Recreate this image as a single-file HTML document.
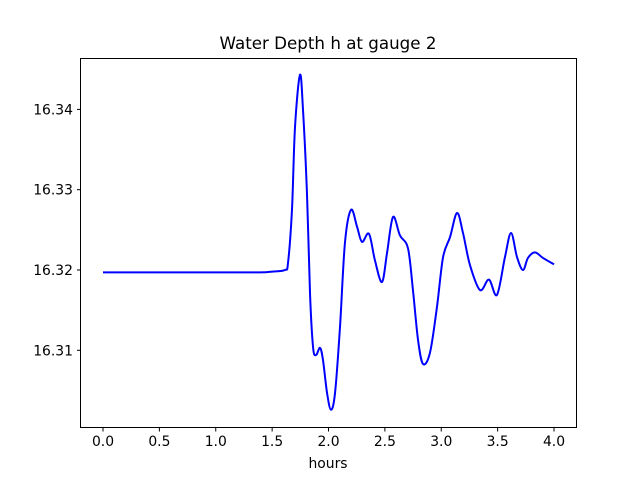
<!DOCTYPE html>
<html><head><meta charset="utf-8"><style>
body{margin:0;background:#fff}
svg{display:block;font-family:"DejaVu Sans","Liberation Sans",sans-serif}
</style></head><body>
<svg id="chart" width="640" height="480" xmlns="http://www.w3.org/2000/svg">
<rect width="640" height="480" fill="#fff"/>
<text x="328" y="49" text-anchor="middle" font-size="16.7" fill="#000">Water Depth h at gauge 2</text>
<g id="xt"></g>
<g id="yt"></g>
<path id="line" fill="none" stroke="#0000ff" stroke-width="2"/>
<rect x="80.5" y="58.5" width="496" height="369" fill="none" stroke="#000" stroke-width="1"/>
<text x="328" y="468" text-anchor="middle" font-size="13.9">hours</text>
</svg>
<script>
const xTicks=[0,0.5,1,1.5,2,2.5,3,3.5,4];
const xTickLabels=["0.0","0.5","1.0","1.5","2.0","2.5","3.0","3.5","4.0"];
const yTicks=[16.31,16.32,16.33,16.34];
const yTickLabels=["16.31","16.32","16.33","16.34"];
const xs=[0,1.0,1.392,1.5,1.614,1.641,1.676,1.703,1.747,1.774,1.809,1.836,1.863,1.889,1.925,1.951,1.987,2.022,2.058,2.102,2.146,2.200,2.253,2.297,2.359,2.412,2.474,2.519,2.572,2.634,2.705,2.749,2.794,2.838,2.900,2.962,3.016,3.078,3.140,3.193,3.255,3.344,3.423,3.494,3.565,3.619,3.672,3.725,3.769,3.831,3.902,4.0];
const ys=[16.3197,16.3197,16.3197,16.3198,16.3200,16.3209,16.3275,16.3378,16.3443,16.3399,16.3296,16.3171,16.3104,16.3094,16.3103,16.3088,16.3047,16.3026,16.3047,16.3129,16.3234,16.3275,16.3254,16.3235,16.3245,16.3212,16.3185,16.3221,16.3266,16.3243,16.3227,16.3175,16.3113,16.3083,16.3097,16.3154,16.3216,16.3241,16.3271,16.3246,16.3206,16.3175,16.3188,16.3169,16.3216,16.3246,16.3216,16.3200,16.3215,16.3222,16.3215,16.3207];
const NS="http://www.w3.org/2000/svg";
function sx(v){return 103+v*112.75;}
function sy(v){return 270-(v-16.32)*8030;}
const xt=document.getElementById('xt'), yt=document.getElementById('yt');
xTicks.forEach((t,i)=>{
  const l=document.createElementNS(NS,'line');
  
  
  l.setAttribute('x1',sx(t));l.setAttribute('x2',sx(t));l.setAttribute('y1',428);l.setAttribute('y2',431.5);l.setAttribute('stroke','#000');
  xt.appendChild(l);
  const tx=document.createElementNS(NS,'text');
  
  
  tx.setAttribute('x',sx(t));tx.setAttribute('y',446);tx.setAttribute('text-anchor','middle');tx.setAttribute('font-size','13.9');
  tx.textContent=xTickLabels[i];xt.appendChild(tx);
});
yTicks.forEach((t,i)=>{
  const l=document.createElementNS(NS,'line');
  
  
  l.setAttribute('x1',77);l.setAttribute('x2',80.5);l.setAttribute('y1',sy(t));l.setAttribute('y2',sy(t));l.setAttribute('stroke','#000');
  yt.appendChild(l);
  const tx=document.createElementNS(NS,'text');
  
  
  tx.setAttribute('x',73);tx.setAttribute('y',sy(t)+5);tx.setAttribute('text-anchor','end');tx.setAttribute('font-size','13.9');
  tx.textContent=yTickLabels[i];yt.appendChild(tx);
});
const P=xs.map((x,i)=>[sx(x),sy(ys[i])]);
let d='M'+P[0][0]+','+P[0][1];
for(let i=0;i<P.length-1;i++){
  const p0=P[Math.max(0,i-1)],p1=P[i],p2=P[i+1],p3=P[Math.min(P.length-1,i+2)];
  const c1=[p1[0]+(p2[0]-p0[0])/6,p1[1]+(p2[1]-p0[1])/6];
  const c2=[p2[0]-(p3[0]-p1[0])/6,p2[1]-(p3[1]-p1[1])/6];
  d+=' C'+c1[0].toFixed(2)+','+c1[1].toFixed(2)+' '+c2[0].toFixed(2)+','+c2[1].toFixed(2)+' '+p2[0].toFixed(2)+','+p2[1].toFixed(2);
}
document.getElementById('line').setAttribute('d',d);
</script>
</body></html>
